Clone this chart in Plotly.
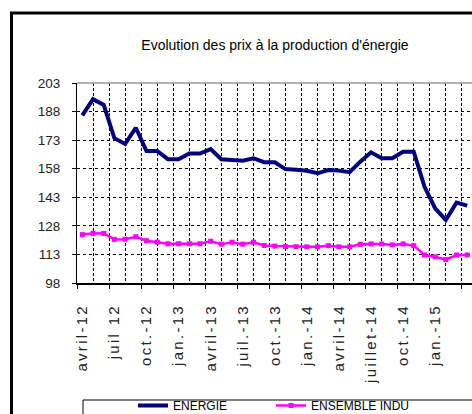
import plotly.graph_objects as go

months = list(range(37))
tick_pos = [0, 3, 6, 9, 12, 15, 18, 21, 24, 27, 30, 33, 36]
tick_text = ["avril-12", "juil 12", "oct.-12", "jan.-13", "avril-13", "juil.-13",
             "oct.-13", "jan.-14", "avril-14", "juillet-14", "oct.-14", "jan.-15", "avril-15"]

energie = [186, 194.5, 191.5, 174, 171, 179.5, 167.3, 167.3, 163, 163, 166, 166, 168.3,
           163, 162.6, 162.2, 163.5, 161.4, 161.4, 157.8, 157.5, 156.9, 155.6, 157.3, 157,
           156.2, 161.7, 166.6, 163.5, 163.5, 166.9, 166.9, 148.6, 137.2, 131.1, 140.2, 138.6]
industrie = [123.4, 124.1, 124, 120.9, 121, 122.3, 120.2, 119.4, 118.6, 118.6, 118.6, 118.6,
             119.9, 118.4, 119.4, 118.4, 119.4, 117.7, 117.4, 117.1, 117.1, 117, 117, 117.6,
             117, 117, 118.3, 118.5, 118.5, 118, 118.5, 117.6, 112.7, 111.7, 110.3, 112.7, 112.7]

y_ticks = [98, 113, 128, 143, 158, 173, 188, 203]
grid_x = [-0.5 + 1.5 * k for k in range(26)]
mark_x = [-0.5 + 3 * k for k in range(13)]

FONT = "Liberation Sans, Arial, sans-serif"

fig = go.Figure()
fig.add_trace(go.Scatter(x=months, y=energie, name="ENERGIE", mode="lines",
                         line=dict(color="#000080", width=4)))
fig.add_trace(go.Scatter(x=months, y=industrie, name="ENSEMBLE INDUSTRIE", mode="lines+markers",
                         line=dict(color="#FF00FF", width=2.5),
                         marker=dict(symbol="square", size=5, color="#FF00FF")))
# invisible trace on overlay axis that carries the category tick marks
fig.add_trace(go.Scatter(x=[-0.5], y=[98], xaxis="x2", mode="markers",
                         marker=dict(opacity=0), showlegend=False, hoverinfo="skip"))

xr = [-0.5, 36.45]
fig.update_layout(
    width=472, height=414,
    margin=dict(l=77, r=0, t=83, b=131, autoexpand=False),
    paper_bgcolor="white", plot_bgcolor="white",
    title=dict(text="Evolution des prix à la production d'énergie",
               x=275 / 472, xref="container", xanchor="center",
               y=1 - 45 / 414, yref="container", yanchor="middle",
               font=dict(family=FONT, size=14, color="black")),
    xaxis=dict(range=xr, tickmode="array", tickvals=tick_pos, ticktext=tick_text,
               tickangle=-90, ticks="", showgrid=False, zeroline=False,
               showline=True, linecolor="black", linewidth=1.5,
               automargin=False,
               tickfont=dict(family=FONT, size=15, color="#222"),
               minor=dict(tickmode="array", tickvals=grid_x, showgrid=True,
                          gridcolor="black", gridwidth=1, griddash="3px,2px", ticks="")),
    xaxis2=dict(range=xr, overlaying="x", anchor="y", side="bottom",
                tickmode="array", tickvals=mark_x, ticks="outside", ticklen=5,
                tickcolor="black", showticklabels=False, showgrid=False,
                zeroline=False, showline=False),
    yaxis=dict(range=[98, 203], tickmode="array", tickvals=y_ticks,
               ticks="outside", ticklen=4, tickcolor="black",
               showline=True, linecolor="black", linewidth=1,
               showgrid=True, gridcolor="black", gridwidth=1, griddash="dot",
               zeroline=False, ticklabelstandoff=9, automargin=False,
               tickfont=dict(family=FONT, size=13.5, color="#222")),
    showlegend=True,
    legend=dict(orientation="h", x=(133 - 77) / 395, xanchor="left",
                y=(283 - 391) / 200, yanchor="top",
                bgcolor="rgba(0,0,0,0)", borderwidth=0,
                font=dict(family=FONT, size=12, color="black"),
                entrywidth=93, itemwidth=30),
    shapes=[
        dict(type="rect", xref="paper", yref="paper",
             x0=(11.5 - 77) / 395, x1=1.2, y0=-1.0, y1=(283 - 13) / 200,
             line=dict(color="black", width=3), fillcolor="rgba(0,0,0,0)"),
        dict(type="line", xref="paper", yref="paper", x0=0, x1=1, y0=1, y1=1,
             line=dict(color="#999", width=1.5)),
        dict(type="rect", xref="paper", yref="paper",
             x0=(83 - 77) / 395, x1=1.2, y0=-0.8, y1=(283 - 400) / 200,
             line=dict(color="black", width=1), fillcolor="rgba(0,0,0,0)"),
    ],
)

post = """
document.body.style.margin='0';
document.body.style.overflow='hidden';
function fixTicks(){
  document.querySelectorAll('.xtick text').forEach(function(t){
    t.style.letterSpacing = '2.3px';
    var cur = t.getAttribute('transform') || '';
    var base = (t.__mine !== undefined && cur === t.__mine) ? t.__base : cur;
    t.setAttribute('transform', base);
    var top = t.getBoundingClientRect().top;
    var nt = 'translate(0,' + (304 - top) + ') ' + base;
    t.setAttribute('transform', nt);
    t.__mine = nt; t.__base = base;
  });
}
var gdiv = document.querySelector('.js-plotly-plot');
if (gdiv && gdiv.on) { gdiv.on('plotly_afterplot', fixTicks); }
fixTicks();
setTimeout(fixTicks, 50);
setTimeout(fixTicks, 300);
setTimeout(fixTicks, 1000);
"""
fig.write_html("out.html", post_script=post, config={"displayModeBar": False})
